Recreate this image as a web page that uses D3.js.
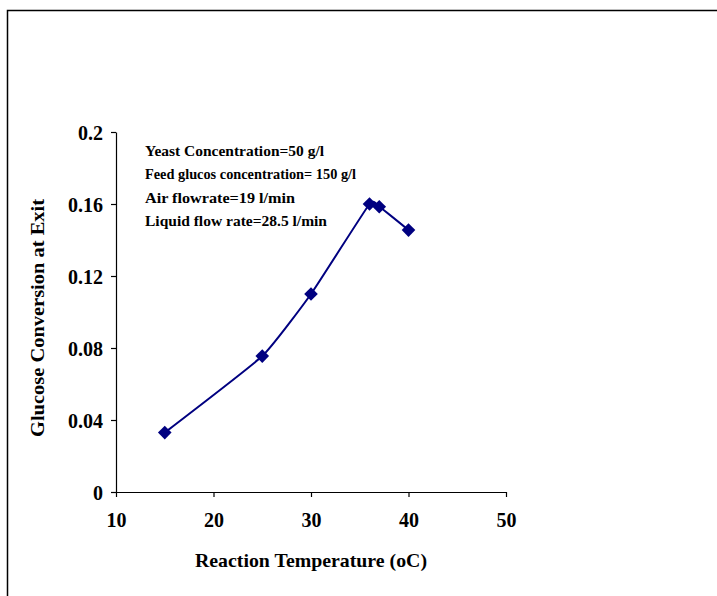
<!DOCTYPE html>
<html><head><meta charset="utf-8">
<script src="https://cdn.jsdelivr.net/npm/d3@7"></script>
<style>body{margin:0;background:#fff}svg{display:block}text{font-family:"Liberation Serif","Times New Roman",serif;font-weight:bold;fill:#000}</style>
</head><body>
<svg id="c" width="717" height="596"></svg>
<script>
const temps = [15, 25, 30, 36, 37, 40];
const conversion = [0.033, 0.0755, 0.11, 0.16, 0.1585, 0.1455];
const xTicks = [10, 20, 30, 40, 50];
const yTicks = [0, 0.04, 0.08, 0.12, 0.16, 0.2];
const yTickLabels = ["0", "0.04", "0.08", "0.12", "0.16", "0.2"];
const notes = ["Yeast Concentration=50 g/l", "Feed glucos concentration= 150 g/l", "Air flowrate=19 l/min", "Liquid flow rate=28.5 l/min"];
const xTitle = "Reaction Temperature (oC)";
const yTitle = "Glucose Conversion at Exit";

const svg = d3.select("#c");
svg.append("path").attr("d","M7.5,596 V10.5 H717").attr("fill","none").attr("stroke","#000").attr("stroke-width",1.5);

const x = d3.scaleLinear().domain([10,50]).range([116,506]);
const y = d3.scaleLinear().domain([0,0.2]).range([492,132]);

const xAxis = svg.append("g").attr("transform","translate(0,492)")
  .call(d3.axisBottom(x).tickValues(xTicks).tickSize(5).tickSizeOuter(0).tickFormat(d3.format("d")));
const yAxis = svg.append("g").attr("transform","translate(116,0)")
  .call(d3.axisLeft(y).tickValues(yTicks).tickSize(5).tickSizeOuter(0).tickFormat((d,i)=>yTickLabels[i]));
[xAxis,yAxis].forEach(a=>{
  a.attr("font-size",null).attr("font-family",null);
  a.select(".domain").attr("stroke","#000").attr("stroke-width",1.2);
  a.selectAll(".tick line").attr("stroke","#000").attr("stroke-width",1.2);
  a.selectAll("text").style("font-size","20px").attr("fill","#000");
});
xAxis.selectAll("text").attr("dy",null).attr("y",35);
yAxis.selectAll("text").attr("x",-13).attr("dy","0.35em");

const pts = temps.map((t,i)=>[x(t), y(conversion[i])]);
svg.append("path").attr("d", d3.line().curve(d3.curveCardinal.tension(0.6))(pts))
  .attr("fill","none").attr("stroke","#000080").attr("stroke-width",2);
svg.selectAll(".m").data(pts).enter().append("path")
  .attr("transform",d=>`translate(${d[0]},${d[1]})`)
  .attr("d","M0,-6.8 L6.8,0 L0,6.8 L-6.8,0 Z").attr("fill","#000080");

const noteW = [179, 211, 150, 182];
notes.forEach((n,i)=>{
  svg.append("text").attr("x",145).attr("y",155.5+i*23.6).style("font-size","15.5px")
    .attr("textLength",noteW[i]).attr("lengthAdjust","spacingAndGlyphs").text(n);
});

svg.append("text").attr("x",311).attr("y",567).attr("text-anchor","middle").style("font-size","19px")
  .attr("textLength",232).attr("lengthAdjust","spacingAndGlyphs").text(xTitle);
svg.append("text").attr("transform","translate(44,318) rotate(-90)").attr("text-anchor","middle").style("font-size","19px")
  .attr("textLength",238).attr("lengthAdjust","spacingAndGlyphs").text(yTitle);
</script>
</body></html>
